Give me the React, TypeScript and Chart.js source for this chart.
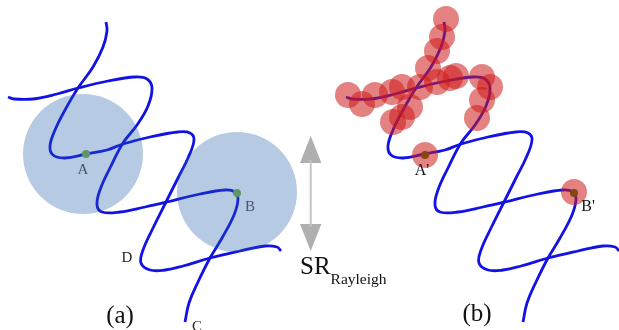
import React, { useEffect, useRef } from "react";
import { Chart, registerables } from "chart.js";

Chart.register(...registerables);

// ---- Diagram data (drawing units = page pixels of the 619x330 view) ----
// Strand 1 of the double helix (panel a)
const strand1X = [106, 107, 103, 93, 78, 65, 55, 50, 53, 65, 86, 107, 123, 150, 178, 190, 194, 188, 178, 167, 154, 143, 141, 150, 165, 183, 210, 240, 265, 277, 281];
const strand1Y = [22, 31, 47, 67, 88, 110, 130, 146, 155, 158, 154, 150, 144, 137, 132, 133, 140, 158, 178, 200, 226, 250, 263, 270, 270, 266, 258, 251, 246, 247, 251];
// Strand 2 of the double helix (panel a)
const strand2X = [8, 14, 33, 57, 78, 108, 135, 147, 152, 148, 137, 123, 110, 100, 97, 102, 120, 145, 167, 200, 225, 235, 238, 234, 222, 210, 198, 189, 185];
const strand2Y = [97, 99, 99, 94, 88, 81, 77, 79, 88, 106, 125, 143, 168, 190, 205, 212, 212, 207, 202, 194, 190, 192, 199, 215, 238, 258, 282, 303, 322];
// Panel (b) shows the same helix shifted to the right
const panelBShift = 338;

// Marked points A, B (panel a) and their blurred regions
const markX = [86, 237];
const markY = [154, 193];
const regionX = [83, 237];
const regionY = [154, 192];

// Localised points A', B' (panel b)
const markPrimeX = [425, 574];
const markPrimeY = [155, 193];

// Red localisation spots (panel b)
const spotX = [446, 442, 437, 428, 437, 450, 456, 482, 490, 482, 477, 348, 362, 375, 392, 402, 420, 410, 402, 393, 425, 574];
const spotY = [19, 37, 51, 68, 82, 78, 76, 77, 87, 100, 118, 95, 104, 95, 92, 87, 87, 107, 117, 122, 155, 192];

// SR_Rayleigh double arrow
const arrowX = [310.7, 310.7];
const arrowY = [160, 227];
const arrowHeadTopX = [310.7, 300, 321.4, 310.7];
const arrowHeadTopY = [136, 163, 163, 136];
const arrowHeadBotX = [310.7, 300, 321.4, 310.7];
const arrowHeadBotY = [251, 224, 224, 251];

// Text labels
const labelText = ["A", "B", "D", "C", "(a)", "(b)", "A'", "B'"];
const labelX = [83, 250, 127, 197, 120, 477, 422, 588];
const labelY = [170, 207, 258, 327, 316, 314, 171, 207];
const labelSize = [15, 15, 15, 15, 25, 25, 16, 16];
const labelColor = ["#4a5566", "#4a5566", "#222", "#222", "#111", "#111", "#111", "#111"];

const zip = (xs: number[], ys: number[], dx = 0) => xs.map((x, i) => ({ x: x + dx, y: ys[i] }));

const textPlugin = {
  id: "diagramText",
  afterDatasetsDraw(chart: any) {
    const { ctx, scales } = chart;
    const sx = scales.x;
    const sy = scales.y;
    ctx.save();
    ctx.textAlign = "center";
    ctx.textBaseline = "middle";
    labelText.forEach((t, i) => {
      ctx.font = `${labelSize[i]}px "Liberation Serif", serif`;
      ctx.fillStyle = labelColor[i];
      ctx.fillText(t, sx.getPixelForValue(labelX[i]), sy.getPixelForValue(labelY[i]));
    });
    // SR with subscript
    ctx.textAlign = "left";
    ctx.textBaseline = "alphabetic";
    ctx.fillStyle = "#111";
    ctx.font = `25px "Liberation Serif", serif`;
    const x0 = sx.getPixelForValue(300);
    const yb = sy.getPixelForValue(274);
    ctx.fillText("SR", x0, yb);
    const w = ctx.measureText("SR").width;
    ctx.font = `15.5px "Liberation Serif", serif`;
    ctx.fillText("Rayleigh", x0 + w, sy.getPixelForValue(284));
    ctx.restore();
  },
};

export default function App() {
  const ref = useRef<HTMLCanvasElement | null>(null);
  useEffect(() => {
    document.body.style.margin = "0";
    if (!ref.current) return;
    const lineStyle = {
      type: "line" as const,
      showLine: true,
      pointRadius: 0,
      borderColor: "rgb(18,18,228)",
      borderWidth: 2.8,
      tension: 0.4,
      fill: false,
      order: 3,
    };
    const chart = new Chart(ref.current, {
      type: "scatter",
      data: {
        datasets: [
          { ...lineStyle, data: zip(strand1X, strand1Y) },
          { ...lineStyle, data: zip(strand2X, strand2Y) },
          { ...lineStyle, data: zip(strand1X, strand1Y, panelBShift) },
          { ...lineStyle, data: zip(strand2X, strand2Y, panelBShift) },
          {
            type: "scatter",
            data: zip(regionX, regionY),
            pointRadius: 60,
            backgroundColor: "rgba(30,90,170,0.32)",
            borderWidth: 0,
            order: 2,
          },
          {
            type: "scatter",
            data: zip(spotX, spotY),
            pointRadius: 13,
            backgroundColor: "rgba(205,25,25,0.55)",
            borderWidth: 0,
            order: 2,
          },
          {
            type: "scatter",
            data: zip(markX, markY),
            pointRadius: 4,
            backgroundColor: "rgb(95,150,100)",
            borderWidth: 0,
            order: 1,
          },
          {
            type: "scatter",
            data: zip(markPrimeX, markPrimeY),
            pointRadius: 4,
            backgroundColor: "rgb(135,70,20)",
            borderWidth: 0,
            order: 1,
          },
          {
            type: "line",
            data: zip(arrowX, arrowY),
            showLine: true,
            pointRadius: 0,
            borderColor: "rgb(195,195,195)",
            borderWidth: 2,
            order: 4,
          },
          {
            type: "line",
            data: zip(arrowHeadTopX, arrowHeadTopY),
            showLine: true,
            pointRadius: 0,
            borderWidth: 0,
            borderColor: "rgba(0,0,0,0)",
            backgroundColor: "rgb(175,175,175)",
            fill: "shape",
            tension: 0,
            order: 4,
          },
          {
            type: "line",
            data: zip(arrowHeadBotX, arrowHeadBotY),
            showLine: true,
            pointRadius: 0,
            borderWidth: 0,
            borderColor: "rgba(0,0,0,0)",
            backgroundColor: "rgb(175,175,175)",
            fill: "shape",
            tension: 0,
            order: 4,
          },
        ] as any,
      },
      options: {
        animation: false,
        responsive: true,
        maintainAspectRatio: false,
        events: [],
        layout: { padding: 0, autoPadding: false },
        plugins: { legend: { display: false }, tooltip: { enabled: false }, title: { display: false } },
        scales: {
          x: { type: "linear", min: 0, max: 619, display: false },
          y: { type: "linear", min: 0, max: 330, reverse: true, display: false },
        },
      },
      plugins: [textPlugin],
    });
    return () => chart.destroy();
  }, []);
  return (
    <div style={{ width: 619, height: 330, position: "relative", background: "#fff" }}>
      <canvas ref={ref} />
    </div>
  );
}
